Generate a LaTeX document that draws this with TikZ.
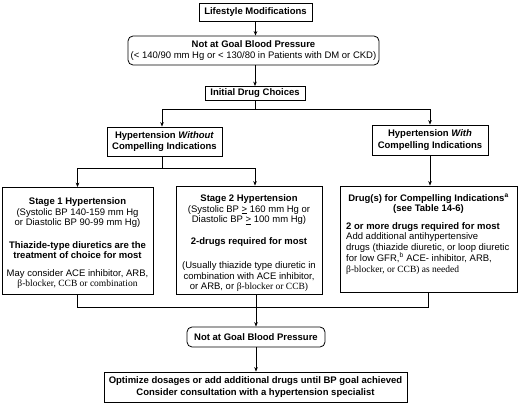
\documentclass[tikz,border=0pt]{standalone}
\usepackage{fontspec}
\setmainfont{Liberation Sans}
\newfontfamily\tms{Liberation Serif}
\usetikzlibrary{arrows.meta}
\tikzset{
  box/.style={draw=black, line width=0.8pt, inner sep=0pt},
  rbox/.style={box, rounded corners=5pt},
  txt/.style={font=\fontsize{9.5}{10.5}\selectfont, align=center, inner sep=0pt},
  arr/.style={-{Stealth[length=4.5pt,width=3.6pt]}, line width=0.7pt},
  ln/.style={line width=0.7pt},
}
\begin{document}
\begin{tikzpicture}[x=1pt,y=-1pt]
\useasboundingbox (0,0) rectangle (520,403);
% top chain
\node[box,txt,minimum width=113pt,minimum height=18pt] (life) at (255.5,12) {\bfseries Lifestyle Modifications};
\node[rbox,txt,minimum width=251pt,minimum height=29pt] (goal1) at (253.5,50.5)
  {\bfseries Not at Goal Blood Pressure\\[1pt](< 140/90 mm Hg or < 130/80 in Patients with DM or CKD)};
\node[box,txt,minimum width=100pt,minimum height=14pt] (init) at (255,93.5) {\bfseries Initial Drug Choices};
\node[box,txt,minimum width=115pt,minimum height=29pt] (without) at (164.5,141.5)
  {\bfseries Hypertension \textit{Without}\\[1pt]\bfseries Compelling Indications};
\node[box,txt,minimum width=116pt,minimum height=30pt] (with) at (430,140)
  {\bfseries Hypertension \textit{With}\\[1pt]\bfseries Compelling Indications};
% stage boxes
\node[box,minimum width=151pt,minimum height=106.5pt] (stage1) at (77.5,240.75) {};
\node[txt,anchor=north] (stage1t) at (77.5,197.5)
  {\bfseries Stage 1 Hypertension\\
   (Systolic BP 140-159 mm Hg\\
   or Diastolic BP 90-99 mm Hg)\\[12pt]
   \bfseries Thiazide-type diuretics are the\\
   \bfseries treatment of choice for most\\[7pt]
   May consider ACE inhibitor, ARB,\\
   {\tms β-blocker, CCB or combination}};
\node[box,minimum width=146pt,minimum height=108pt] (stage2) at (249,240) {};
\node[txt,anchor=north] (stage2t) at (249,194.5)
  {\bfseries Stage 2 Hypertension\\
   (Systolic BP \underline{>} 160 mm Hg or\\
   Diastolic BP \underline{>} 100 mm Hg)\\[11.5pt]
   \bfseries 2-drugs required for most\\[13.5pt]
   (Usually thiazide type diuretic in\\
   combination with ACE inhibitor,\\
   or ARB, or {\tms β-blocker or CCB)}};
\node[box,minimum width=177pt,minimum height=106pt] (drug) at (428.5,239) {};
\node[txt,anchor=north] (drugt1) at (428.5,193.5)
  {\bfseries Drug(s) for Compelling Indications\textsuperscript{a}\\
   \bfseries (see Table 14-6)};
\node[txt,align=left,anchor=north west] (drugt2) at (346,222)
  {\bfseries 2 or more drugs required for most\\
   Add additional antihypertensive\\
   drugs (thiazide diuretic, or loop diuretic\\
   for low GFR,\textsuperscript{b} ACE- inhibitor, ARB,\\
   {\tms β-blocker, or CCB) as needed}};
% bottom
\node[rbox,txt,minimum width=138pt,minimum height=20pt] (goal2) at (256,337) {\bfseries Not at Goal Blood Pressure};
\node[box,txt,minimum width=303pt,minimum height=30pt] (opt) at (255.5,387)
  {\bfseries Optimize dosages or add additional drugs until BP goal achieved\\[1pt]
   \bfseries Consider consultation with a hypertension specialist};
% connectors
\draw[arr] (life.south) -- (life.south |- goal1.north);
\draw[arr] (init.north |- goal1.south) -- (init.north);
\coordinate (b1) at (255,109);
\draw[ln] (init.south) -- (b1);
\draw[arr] (b1) -| ([xshift=-2.5pt]without.north);
\draw[arr] (b1) -| (with.north);
\coordinate (b2) at (162,168);
\draw[ln] ([xshift=-2.5pt]without.south) -- (b2);
\draw[arr] (b2) -| (stage1.north);
\draw[arr] (b2) -| ([xshift=6pt]stage2.north);
\draw[arr] (with.south) -- (with.south |- drug.north);
\coordinate (m) at (256,307);
\draw[ln] (stage1.south) |- (m);
\draw[ln] (drug.south) |- (m);
\draw[arr] (goal2.north |- stage2.south) -- (goal2.north);
\draw[arr] (goal2.south) -- (goal2.south |- opt.north);
\end{tikzpicture}
\end{document}
